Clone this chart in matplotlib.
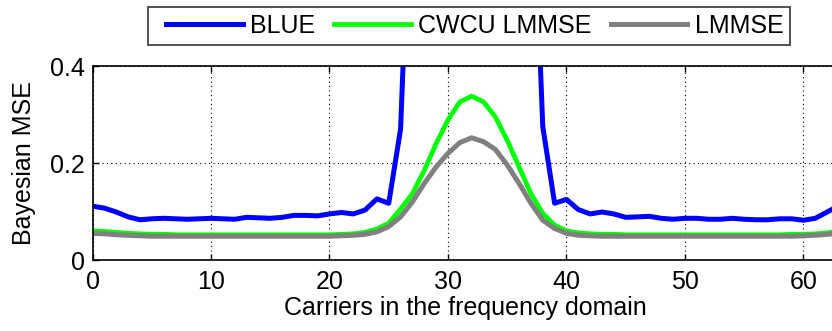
import numpy as np
import matplotlib
matplotlib.use("Agg")
import matplotlib.pyplot as plt
from matplotlib.lines import Line2D
from matplotlib.legend_handler import HandlerLine2D

plt.rcParams['font.family'] = ['Liberation Sans', 'DejaVu Sans']

carriers = np.arange(64)

# BLUE estimator: blows up on the middle carriers (values there are far above the axis)
mse_blue = [0.111, 0.107, 0.099, 0.089, 0.083, 0.085, 0.086, 0.085, 0.084, 0.085,
            0.086, 0.085, 0.084, 0.088, 0.087, 0.086, 0.088, 0.092, 0.092, 0.091,
            0.095, 0.098, 0.095, 0.103, 0.126, 0.117, 0.270, 0.90, 2.5, 6.0,
            12.0, 20.0, 25.0, 20.0, 12.0, 6.0, 2.5, 0.90, 0.275, 0.117,
            0.125, 0.104, 0.095, 0.099, 0.095, 0.088, 0.089, 0.090, 0.086, 0.084,
            0.086, 0.086, 0.084, 0.084, 0.086, 0.084, 0.083, 0.083, 0.085, 0.085,
            0.082, 0.086, 0.099, 0.112]

mse_cwcu = [0.060, 0.059, 0.057, 0.055, 0.054, 0.053, 0.053, 0.052, 0.052, 0.052,
            0.052, 0.052, 0.052, 0.052, 0.052, 0.052, 0.052, 0.052, 0.052, 0.052,
            0.052, 0.053, 0.054, 0.057, 0.064, 0.076, 0.105, 0.137, 0.185, 0.240,
            0.289, 0.326, 0.338, 0.326, 0.295, 0.247, 0.192, 0.137, 0.096, 0.072,
            0.060, 0.056, 0.054, 0.053, 0.053, 0.052, 0.052, 0.052, 0.052, 0.052,
            0.052, 0.052, 0.052, 0.052, 0.052, 0.052, 0.052, 0.052, 0.052, 0.053,
            0.053, 0.054, 0.056, 0.059]

mse_lmmse = [0.055, 0.054, 0.052, 0.051, 0.050, 0.049, 0.049, 0.049, 0.049, 0.049,
             0.049, 0.049, 0.049, 0.049, 0.049, 0.049, 0.049, 0.049, 0.049, 0.049,
             0.049, 0.050, 0.051, 0.053, 0.058, 0.069, 0.089, 0.120, 0.158, 0.192,
             0.220, 0.242, 0.252, 0.244, 0.228, 0.196, 0.158, 0.117, 0.082, 0.065,
             0.055, 0.051, 0.050, 0.049, 0.049, 0.049, 0.049, 0.049, 0.049, 0.049,
             0.049, 0.049, 0.049, 0.049, 0.049, 0.049, 0.049, 0.049, 0.049, 0.049,
             0.050, 0.051, 0.053, 0.055]

fs = 18

fig = plt.figure(figsize=(8.32, 3.31), dpi=100)
ax = fig.add_axes([0.1112, 0.2145, 0.8972, 0.586])

ax.plot(carriers, mse_blue, color=(0, 0, 1), lw=3.6, label='BLUE')
ax.plot(carriers, mse_cwcu, color=(0, 1, 0), lw=3.4, label='CWCU LMMSE')
ax.plot(carriers, mse_lmmse, color=(0.5, 0.5, 0.5), lw=3.6, label='LMMSE')

ax.set_xlim(0, 63)
ax.set_ylim(0, 0.4)
ax.set_xticks([0, 10, 20, 30, 40, 50, 60])
ax.set_yticks([0, 0.2, 0.4])
ax.set_yticklabels(['0', '0.2', '0.4'])
ax.grid(True, color='black', linestyle=(0, (1, 3)), linewidth=0.8)
ax.tick_params(direction='in', length=4, width=1, labelsize=fs, top=True, right=True)
ax.tick_params(axis='x', pad=7.5)
ax.tick_params(axis='y', pad=5.5)
for s in ax.spines.values():
    s.set_linewidth(1.2)

ax.set_xlabel('Carriers in the frequency domain', fontsize=fs, labelpad=1)
ax.set_ylabel('Bayesian MSE', fontsize=fs, labelpad=10)

# xpad pushes each legend line a bit right of its slot
leg = fig.legend(loc='lower center', bbox_to_anchor=(0.564, 0.864), ncol=3,
                 fontsize=fs, frameon=True, fancybox=False, edgecolor='black',
                 handlelength=3.5, columnspacing=0.32, handletextpad=0.3,
                 borderpad=0.28, borderaxespad=0,
                 handler_map={Line2D: HandlerLine2D(xpad=0.44)})
leg.get_frame().set_linewidth(1.2)

fig.savefig('out.png', dpi=100)
